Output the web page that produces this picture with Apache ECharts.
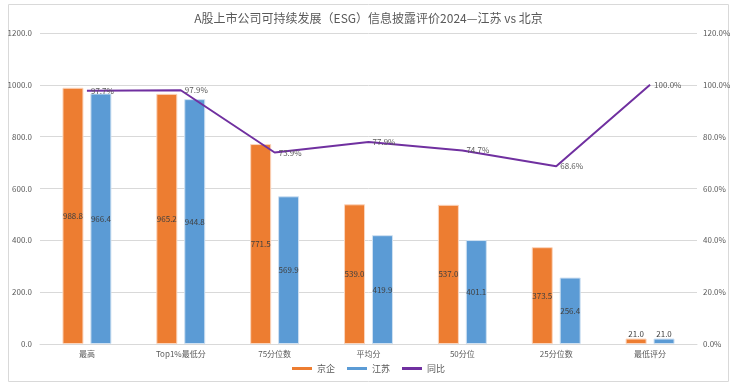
<!DOCTYPE html>
<html><head><meta charset="utf-8">
<script src="https://cdn.jsdelivr.net/npm/echarts@6/dist/echarts.min.js"></script>
<style>html,body{margin:0;padding:0;background:#fff}#c{width:737px;height:384px}</style>
</head><body><div id="c"></div>
<script>
const categories = ['最高','Top1%最低分','75分位数','平均分','50分位','25分位数','最低评分'];
const beijing = [988.8, 965.2, 771.5, 539.0, 537.0, 373.5, 21.0];
const jiangsu = [966.4, 944.8, 569.9, 419.9, 401.1, 256.4, 21.0];
const ratio = [97.7, 97.9, 73.9, 77.9, 74.7, 68.6, 100.0];
const leftTicks = [0, 200, 400, 600, 800, 1000, 1200];
const rightTicks = [0, 20, 40, 60, 80, 100, 120];

const font = '"Microsoft YaHei","Noto Sans CJK SC",sans-serif';
function barData(arr){
  return arr.map(v => v < 60 ? {value:v, label:{position:'top', distance:1}} : v);
}
const chart = echarts.init(document.getElementById('c'));
chart.setOption({
  animation: false,
  textStyle: {fontFamily: font},
  graphic: [{type:'rect', shape:{x:8.5,y:4.5,width:720,height:377}, style:{fill:'none', stroke:'#d9d9d9', lineWidth:1}, silent:true}],
  title: {text:'A股上市公司可持续发展（ESG）信息披露评价2024—江苏 vs 北京', left:'center', top:7,
    textStyle:{fontSize:12, fontWeight:'normal', color:'#595959', fontFamily:font}},
  legend: {bottom:6, left:'center', itemWidth:20, itemHeight:3, itemGap:12,
    textStyle:{fontSize:9, color:'#595959'},
    data:[{name:'京企', icon:'rect', itemStyle:{borderWidth:0}},
          {name:'江苏', icon:'rect', itemStyle:{borderWidth:0}},
          {name:'同比', icon:'rect'}]},
  grid: {left:40, right:40, top:33, bottom:40},
  xAxis: {type:'category', data:categories,
    axisLine:{lineStyle:{color:'#d9d9d9'}}, axisTick:{show:false},
    axisLabel:{fontSize:8, color:'#595959', margin:6}},
  yAxis: [
    {type:'value', min:leftTicks[0], max:leftTicks[leftTicks.length-1], interval:200,
     axisLabel:{fontSize:8, color:'#595959', formatter:v=>v.toFixed(1), margin:8},
     splitLine:{lineStyle:{color:'#d9d9d9'}}, axisLine:{show:false}, axisTick:{show:false}},
    {type:'value', min:rightTicks[0], max:rightTicks[rightTicks.length-1], interval:20,
     axisLabel:{fontSize:8, color:'#595959', formatter:v=>v.toFixed(1)+'%', margin:6},
     splitLine:{show:false}, axisLine:{show:false}, axisTick:{show:false}}
  ],
  series: [
    {name:'京企', type:'bar', data:barData(beijing), barWidth:21, barGap:'33%',
     itemStyle:{color:'#ed7d31', borderColor:'#fbd5bd', borderWidth:1},
     label:{show:true, position:'inside', fontSize:8, color:'#404040', formatter:p=>p.value.toFixed(1)}},
    {name:'江苏', type:'bar', data:barData(jiangsu), barWidth:21,
     itemStyle:{color:'#5b9bd5', borderColor:'#cfe1f2', borderWidth:1},
     label:{show:true, position:'inside', fontSize:8, color:'#404040', formatter:p=>p.value.toFixed(1)}},
    {name:'同比', type:'line', yAxisIndex:1, data:ratio, symbol:'circle', symbolSize:0.1, showSymbol:true,
     lineStyle:{color:'#7030a0', width:2}, itemStyle:{color:'#7030a0'},
     label:{show:true, position:'right', distance:4, fontSize:8, color:'#595959', formatter:p=>p.value.toFixed(1)+'%'}}
  ]
});
</script></body></html>
